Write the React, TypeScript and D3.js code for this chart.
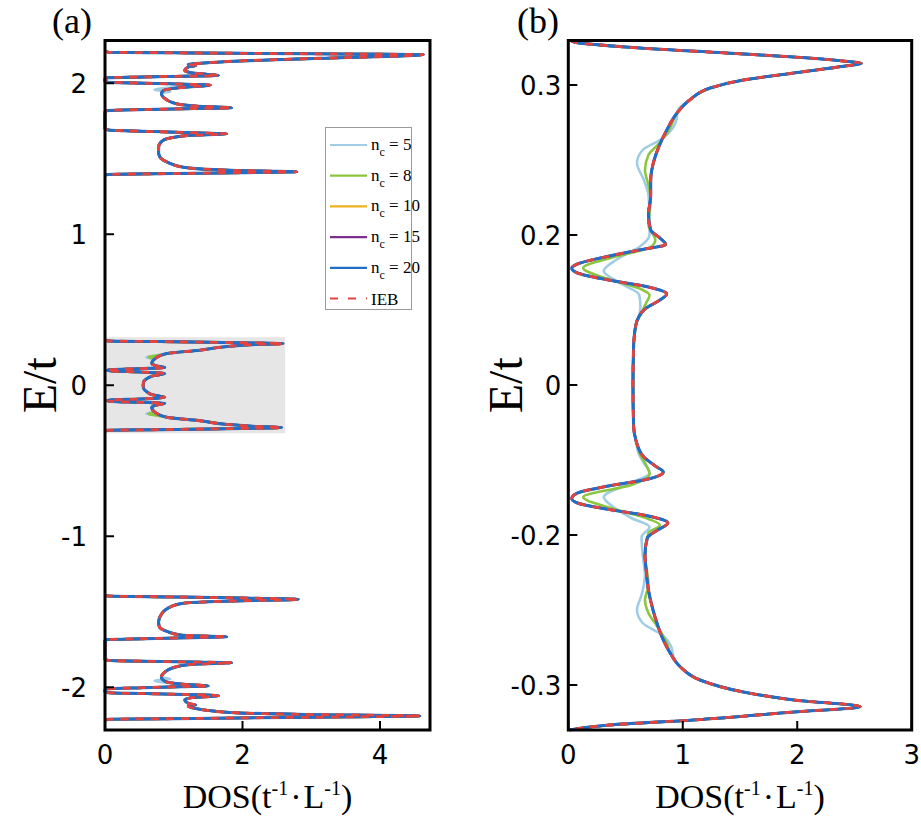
import React, { useEffect, useRef } from 'react';
import * as d3 from 'd3';

type Pt = [number, number]; // [E/t, DOS], E going down

// panel (a): the three bands of the full spectrum
const upperBandA: Pt[] = [
  [2.215, 0], [2.205, 0.05], [2.2015, 1.0], [2.198, 2.0], [2.195, 3.0], [2.1925, 4.0],
  [2.19, 4.63], [2.161, 2.84], [2.146, 1.87], [2.132, 1.38], [2.124, 1.21], [2.118, 1.32],
  [2.108, 1.22], [2.085, 1.16], [2.07, 1.25], [2.058, 1.5], [2.051, 1.65], [2.047, 1.2],
  [2.042, 0.6], [2.037, 0.05], [2.03, 0], [2.012, 0], [2.007, 0.05], [2.0, 0.6],
  [1.993, 1.2], [1.989, 1.53], [1.973, 1.14], [1.952, 0.85], [1.93, 0.82], [1.907, 0.85],
  [1.864, 1.04], [1.848, 1.35], [1.837, 1.84], [1.832, 1.3], [1.826, 0.6], [1.82, 0.05],
  [1.81, 0], [1.7, 0], [1.69, 0.05], [1.68, 0.7], [1.671, 1.35], [1.665, 1.77],
  [1.655, 1.25], [1.64, 0.98], [1.62, 0.84], [1.577, 0.78], [1.54, 0.78], [1.51, 0.8],
  [1.475, 0.92], [1.444, 1.14], [1.428, 1.6], [1.418, 2.3], [1.414, 2.79], [1.408, 2.0],
  [1.402, 1.0], [1.396, 0.05], [1.39, 0],
];

const centerBandA: Pt[] = [
  [0.3, 0], [0.293, 0.05], [0.289, 0.8], [0.284, 1.6], [0.279, 2.3], [0.276, 2.59],
  [0.27, 2.2], [0.255, 1.75], [0.232, 1.38], [0.21, 0.9], [0.177, 0.73], [0.144, 0.68],
  [0.128, 0.75], [0.117, 0.87], [0.11, 0.5], [0.104, 0.1], [0.099, 0.03], [0.094, 0.1],
  [0.088, 0.5], [0.077, 0.87], [0.06, 0.68], [0.044, 0.61], [0.02, 0.56], [0, 0.555],
  [-0.02, 0.56], [-0.044, 0.61], [-0.062, 0.68], [-0.08, 0.87], [-0.091, 0.5],
  [-0.097, 0.1], [-0.102, 0.03], [-0.107, 0.1], [-0.113, 0.5], [-0.12, 0.87],
  [-0.131, 0.75], [-0.147, 0.68], [-0.18, 0.73], [-0.212, 0.9], [-0.235, 1.38],
  [-0.258, 1.75], [-0.273, 2.2], [-0.28, 2.57], [-0.284, 2.3], [-0.289, 1.6],
  [-0.294, 0.8], [-0.298, 0.05], [-0.305, 0],
];

const lowerBandA: Pt[] = [
  [-1.39, 0], [-1.396, 0.05], [-1.402, 1.0], [-1.409, 2.0], [-1.418, 2.81], [-1.424, 2.3],
  [-1.432, 1.6], [-1.444, 1.14], [-1.475, 0.92], [-1.533, 0.8], [-1.57, 0.78],
  [-1.599, 0.79], [-1.63, 0.9], [-1.654, 1.1], [-1.66, 1.35], [-1.665, 1.77],
  [-1.672, 1.2], [-1.678, 0.6], [-1.684, 0.05], [-1.69, 0], [-1.815, 0], [-1.822, 0.05],
  [-1.828, 0.6], [-1.833, 1.3], [-1.837, 1.84], [-1.846, 1.35], [-1.864, 1.04],
  [-1.907, 0.85], [-1.934, 0.82], [-1.963, 0.88], [-1.98, 1.14], [-1.991, 1.5],
  [-1.996, 1.1], [-2.003, 0.55], [-2.01, 0.05], [-2.016, 0], [-2.03, 0], [-2.036, 0.05],
  [-2.042, 0.6], [-2.048, 1.2], [-2.056, 1.65], [-2.07, 1.25], [-2.085, 1.16],
  [-2.108, 1.22], [-2.118, 1.32], [-2.124, 1.21], [-2.146, 1.38], [-2.168, 1.87],
  [-2.18, 2.9], [-2.19, 4.58], [-2.196, 3.5], [-2.203, 2.0], [-2.208, 1.0],
  [-2.212, 0.05], [-2.22, 0],
];

// where the coarse expansions leave the converged curve in (a)
const n5PatchA: Pt[][] = [
  [[1.975, 1.05], [1.963, 0.78], [1.955, 0.72], [1.946, 0.95], [1.936, 0.84]],
  [[-1.936, 0.84], [-1.946, 0.95], [-1.955, 0.72], [-1.963, 0.78], [-1.975, 1.05]],
  [[0.196, 0.74], [0.186, 0.6], [0.172, 0.7]],
  [[-0.175, 0.7], [-0.189, 0.6], [-0.199, 0.74]],
];
const n8PatchA: Pt[][] = [
  [[0.2, 0.8], [0.187, 0.63], [0.175, 0.71]],
  [[-0.178, 0.71], [-0.19, 0.63], [-0.203, 0.8]],
];

// panel (b): the central band at higher resolution
const bandB: Pt[] = [
  [0.345, 0.02], [0.343, 0.05], [0.338, 0.5], [0.332, 1.38], [0.328, 1.97], [0.324, 2.4],
  [0.3217, 2.56], [0.319, 2.42], [0.312, 1.97], [0.305, 1.53], [0.297, 1.24],
  [0.285, 1.06], [0.272, 0.95], [0.255, 0.86], [0.238, 0.79], [0.225, 0.75],
  [0.205, 0.72], [0.19, 0.72], [0.17, 0.7], [0.155, 0.72], [0.147, 0.8], [0.1406, 0.85],
  [0.135, 0.62], [0.127, 0.28], [0.121, 0.08], [0.1167, 0.03], [0.112, 0.08],
  [0.105, 0.35], [0.098, 0.7], [0.091, 0.86], [0.085, 0.8], [0.076, 0.67], [0.06, 0.59],
  [0.037, 0.57], [0, 0.565], [-0.04, 0.57], [-0.055, 0.59], [-0.072, 0.66],
  [-0.081, 0.76], [-0.087, 0.83], [-0.094, 0.7], [-0.101, 0.35], [-0.108, 0.08],
  [-0.1135, 0.03], [-0.118, 0.08], [-0.124, 0.33], [-0.131, 0.7], [-0.138, 0.87],
  [-0.145, 0.78], [-0.153, 0.69], [-0.17, 0.67], [-0.185, 0.68], [-0.205, 0.7],
  [-0.225, 0.74], [-0.24, 0.78], [-0.255, 0.83], [-0.268, 0.89], [-0.282, 0.98],
  [-0.295, 1.15], [-0.307, 1.53], [-0.315, 1.97], [-0.3217, 2.55], [-0.327, 1.97],
  [-0.335, 1.09], [-0.34, 0.36], [-0.345, 0.01],
];

const n5PatchB: Pt[][] = [
  [[0.27, 0.95], [0.255, 0.9], [0.245, 0.8], [0.235, 0.65], [0.222, 0.6], [0.205, 0.66],
   [0.19, 0.7], [0.17, 0.71], [0.15, 0.71], [0.138, 0.62], [0.126, 0.43], [0.114, 0.31],
   [0.102, 0.45], [0.09, 0.62], [0.078, 0.63], [0.07, 0.62]],
  [[-0.07, 0.62], [-0.078, 0.66], [-0.088, 0.71], [-0.1, 0.5], [-0.112, 0.31],
   [-0.124, 0.42], [-0.133, 0.55], [-0.142, 0.71], [-0.152, 0.64], [-0.17, 0.65],
   [-0.19, 0.67], [-0.21, 0.64], [-0.225, 0.6], [-0.238, 0.65], [-0.25, 0.82],
   [-0.262, 0.9], [-0.272, 0.92]],
];
const n8PatchB: Pt[][] = [
  [[0.255, 0.88], [0.24, 0.78], [0.23, 0.7], [0.215, 0.67], [0.2, 0.7], [0.185, 0.72],
   [0.16, 0.7], [0.145, 0.76], [0.138, 0.72], [0.128, 0.4], [0.117, 0.13], [0.106, 0.35],
   [0.095, 0.65], [0.09, 0.71], [0.082, 0.68], [0.07, 0.63]],
  [[-0.07, 0.63], [-0.08, 0.68], [-0.089, 0.71], [-0.1, 0.55], [-0.112, 0.13],
   [-0.124, 0.4], [-0.134, 0.7], [-0.14, 0.8], [-0.148, 0.7], [-0.17, 0.67],
   [-0.2, 0.7], [-0.215, 0.67], [-0.228, 0.7], [-0.242, 0.78], [-0.258, 0.86]],
];

const seriesLabels = ['5', '8', '10', '15', '20'];
const seriesColors = ['#9fcde6', '#8cc63f', '#edb120', '#7e2f8e', '#1f6fc8'];
const iebColor = '#e5433b';

const xTicksA = [0, 2, 4];
const yTicksA = [-2, -1, 0, 1, 2];
const xTicksB = [0, 1, 2, 3];
const yTicksB = [-0.3, -0.15, 0, 0.15, 0.3];
const yTickLabelsB = ['-0.3', '-0.2', '0', '0.2', '0.3'];

// replace stretches of the base curve by the points read for one series
const applyPatches = (base: Pt[], patches: Pt[][]) => {
  const top = base[0][0], bottom = base[base.length - 1][0];
  let pts = base.slice();
  patches.forEach(p => {
    const hi = d3.max(p, d => d[0]) as number, lo = d3.min(p, d => d[0]) as number;
    if (hi > top || lo < bottom) return;
    pts = pts.filter(d => d[0] > hi || d[0] < lo).concat(p);
  });
  return pts.sort((a, b) => b[0] - a[0]);
};

const TOP = 40.5, BOTTOM = 730;
const serif = '"Liberation Serif", "Times New Roman", serif';
const sans = '"DejaVu Sans", Verdana, sans-serif';

type PanelOpts = {
  left: number; right: number; xDomain: [number, number]; yDomain: [number, number];
  bands: Pt[][]; n5: Pt[][]; n8: Pt[][];
  xTicks: number[]; yTicks: number[]; yLabels: string[]; yLabelGap: number;
  tag: string; tagX: number; titleX: number;
};

function drawPanel(svg: d3.Selection<SVGSVGElement, unknown, null, undefined>, o: PanelOpts, extra?: (g: any, x: any, y: any) => void) {
  const x = d3.scaleLinear().domain(o.xDomain).range([o.left, o.right]);
  const y = d3.scaleLinear().domain(o.yDomain).range([BOTTOM, TOP]);
  const g = svg.append('g');

  if (extra) extra(g, x, y);

  const line = d3.line<Pt>().x(d => x(d[1])).y(d => y(d[0])).curve(d3.curveMonotoneY);
  const plot = g.append('g');

  seriesColors.forEach((c, i) => {
    const patches = i === 0 ? o.n5 : i === 1 ? o.n8 : [];
    o.bands.forEach(b => {
      plot.append('path').attr('d', line(applyPatches(b, patches)))
        .attr('fill', 'none').attr('stroke', c).attr('stroke-width', i === 4 ? 3 : 2.6)
        .attr('stroke-linejoin', 'round');
    });
  });
  o.bands.forEach(b => {
    plot.append('path').attr('d', line(b))
      .attr('fill', 'none').attr('stroke', iebColor).attr('stroke-width', 2.8)
      .attr('stroke-dasharray', '8 7');
  });

  // frame and ticks
  g.append('rect').attr('x', o.left).attr('y', TOP)
    .attr('width', o.right - o.left).attr('height', BOTTOM - TOP)
    .attr('fill', 'none').attr('stroke', '#000').attr('stroke-width', 3);

  o.xTicks.forEach(t => {
    g.append('line').attr('x1', x(t)).attr('x2', x(t)).attr('y1', BOTTOM).attr('y2', BOTTOM - 9)
      .attr('stroke', '#000').attr('stroke-width', 2);
    g.append('text').attr('x', x(t)).attr('y', 764).attr('text-anchor', 'middle')
      .attr('font-family', sans).attr('font-size', 26).text(String(t));
  });
  o.yTicks.forEach((t, i) => {
    g.append('line').attr('x1', o.left).attr('x2', o.left + 9).attr('y1', y(t)).attr('y2', y(t))
      .attr('stroke', '#000').attr('stroke-width', 2);
    g.append('text').attr('x', o.left - o.yLabelGap).attr('y', y(t) + 9.5).attr('text-anchor', 'end')
      .attr('font-family', sans).attr('font-size', 26).text(o.yLabels[i]);
  });

  // axis titles and panel tag
  const xt = g.append('text').attr('x', (o.left + o.right) / 2).attr('y', 808)
    .attr('text-anchor', 'middle').attr('font-family', serif).attr('font-size', 34);
  xt.append('tspan').text('DOS(t');
  xt.append('tspan').attr('font-size', 20).attr('dy', -13).text('-1');
  xt.append('tspan').attr('dy', 13).attr('dx', 2).text('\u00b7');
  xt.append('tspan').attr('dx', 2).text('L');
  xt.append('tspan').attr('font-size', 20).attr('dy', -13).text('-1');
  xt.append('tspan').attr('dy', 13).text(')');

  g.append('text').attr('transform', `translate(${o.titleX}, ${(TOP + BOTTOM) / 2}) rotate(-90)`)
    .attr('text-anchor', 'middle').attr('font-family', serif).attr('font-size', 48).text('E/t');

  g.append('text').attr('x', o.tagX).attr('y', 33).attr('font-family', serif)
    .attr('font-size', 36).text(o.tag);
}

function drawLegend(svg: d3.Selection<SVGSVGElement, unknown, null, undefined>) {
  const lg = svg.append('g');
  lg.append('rect').attr('x', 325.5).attr('y', 127.5).attr('width', 86).attr('height', 182)
    .attr('fill', '#fff').attr('stroke', '#9a9a9a').attr('stroke-width', 1);
  const rowY = (i: number) => 145 + i * 30.7;
  seriesLabels.forEach((lab, i) => {
    lg.append('line').attr('x1', 330).attr('x2', 367).attr('y1', rowY(i)).attr('y2', rowY(i))
      .attr('stroke', seriesColors[i]).attr('stroke-width', 2.2);
    const t = lg.append('text').attr('x', 371).attr('y', rowY(i) + 5)
      .attr('font-family', serif).attr('font-size', 17);
    t.append('tspan').text('n');
    t.append('tspan').attr('font-size', 12).attr('dy', 6).text('c');
    t.append('tspan').attr('dy', -6).text(` = ${lab}`);
  });
  const iy = rowY(5);
  lg.append('line').attr('x1', 330).attr('x2', 367).attr('y1', iy).attr('y2', iy)
    .attr('stroke', iebColor).attr('stroke-width', 2.2).attr('stroke-dasharray', '8 10');
  lg.append('text').attr('x', 371).attr('y', iy + 6).attr('font-family', serif)
    .attr('font-size', 17).text('IEB');
}

export default function App() {
  const ref = useRef<SVGSVGElement>(null);

  useEffect(() => {
    document.body.style.margin = '0';
    const svg = d3.select(ref.current as SVGSVGElement);
    svg.selectAll('*').remove();

    drawPanel(svg, {
      left: 105, right: 430, xDomain: [0, 4.727], yDomain: [-2.283, 2.283],
      bands: [upperBandA, centerBandA, lowerBandA], n5: n5PatchA, n8: n8PatchA,
      xTicks: xTicksA, yTicks: yTicksA, yLabels: yTicksA.map(String), yLabelGap: 18,
      tag: '(a)', tagX: 52, titleX: 56,
    }, (g, x, y) => {
      // shaded window that panel (b) magnifies
      g.append('rect').attr('x', x(0)).attr('y', y(0.318))
        .attr('width', x(2.62) - x(0)).attr('height', y(-0.318) - y(0.318)).attr('fill', '#e6e6e6');
    });

    drawPanel(svg, {
      left: 568.3, right: 911.7, xDomain: [0, 3], yDomain: [-0.345, 0.3445],
      bands: [bandB], n5: n5PatchB, n8: n8PatchB,
      xTicks: xTicksB, yTicks: yTicksB, yLabels: yTickLabelsB, yLabelGap: 7,
      tag: '(b)', tagX: 517, titleX: 522,
    });

    drawLegend(svg);
  }, []);

  return <svg ref={ref} width={921} height={820} style={{ display: 'block', background: '#fff' }} />;
}
